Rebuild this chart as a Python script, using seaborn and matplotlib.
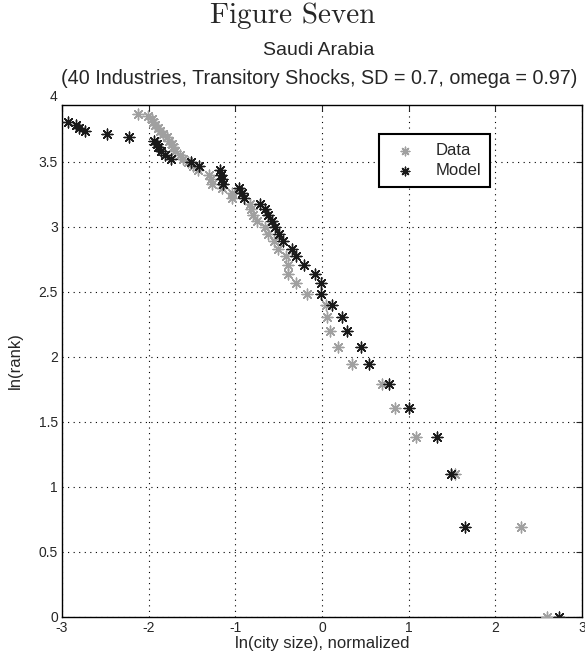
import numpy as np
import pandas as pd
import seaborn as sns
from matplotlib import pyplot as plt
from matplotlib import transforms

# ln(rank) for ranks 1..48 (data) and 1..45 (model)
data_y = [0.000, 0.693, 1.099, 1.386, 1.609, 1.792, 1.946, 2.079, 2.197, 2.303,
          2.398, 2.485, 2.565, 2.639, 2.708, 2.773, 2.833, 2.890, 2.944, 2.996,
          3.045, 3.091, 3.135, 3.178, 3.219, 3.258, 3.296, 3.332, 3.367, 3.401,
          3.434, 3.466, 3.497, 3.526, 3.555, 3.584, 3.611, 3.638, 3.664, 3.689,
          3.714, 3.738, 3.761, 3.784, 3.807, 3.829, 3.850, 3.871]
data_x = [2.59, 2.29, 1.534, 1.08, 0.846, 0.692, 0.342, 0.181, 0.09, 0.054,
          0.046, -0.17, -0.303, -0.389, -0.389, -0.415, -0.504, -0.554, -0.619, -0.657,
          -0.746, -0.792, -0.822, -0.83, -1.04, -1.04, -1.157, -1.272, -1.284, -1.30,
          -1.427, -1.484, -1.542, -1.60, -1.638, -1.696, -1.715, -1.734, -1.761, -1.791,
          -1.834, -1.869, -1.897, -1.926, -1.946, -1.964, -2.003, -2.119]

model_y = data_y[:45]
model_x = [2.73, 1.65, 1.488, 1.33, 1.00, 0.769, 0.546, 0.45, 0.292, 0.227,
           0.119, -0.015, -0.015, -0.08, -0.208, -0.30, -0.342, -0.446, -0.497, -0.543,
           -0.58, -0.623, -0.654, -0.715, -0.899, -0.926, -0.954, -1.138, -1.15, -1.165,
           -1.18, -1.419, -1.514, -1.745, -1.81, -1.86, -1.888, -1.907, -1.935, -2.226,
           -2.476, -2.74, -2.80, -2.84, -2.926]

xticks = [-3, -2, -1, 0, 1, 2, 3]
yticks = [0, 0.5, 1, 1.5, 2, 2.5, 3, 3.5]
ytick_labels = ["0", "0.5", "1", "1.5", "2", "2.5", "3", "3.5"]

sns.set_style("white")
plt.rcParams["font.family"] = ["Liberation Sans", "DejaVu Sans"]

fig = plt.figure(figsize=(5.85, 6.64), dpi=100)
# axes box: x 62..582 px, y 104..617 px
ax = fig.add_axes([0.106, 0.0712, 0.889, 0.7711])

star = (8, 2, 0)
sns.scatterplot(x=data_x, y=data_y, ax=ax, marker=star, color="#a0a0a0",
                s=60, linewidth=1.0, label="Data", zorder=3)
sns.scatterplot(x=model_x, y=model_y, ax=ax, marker=star, color="#1a1a1a",
                s=60, linewidth=1.0, label="Model", zorder=4)

ax.set_xlim(-3, 3)
ax.set_ylim(0, 3.94)
ax.set_xticks(xticks)
ax.set_xticklabels([str(t) for t in xticks])
ax.set_yticks(yticks)
ax.set_yticklabels(ytick_labels)
ax.tick_params(direction="in", length=4, width=0.8, labelsize=10,
               top=True, right=True, pad=3)
ax.grid(True, linestyle=(0, (1, 4)), color="black", linewidth=0.8)
for sp in ax.spines.values():
    sp.set_color("black")
    sp.set_linewidth(1.0)

# the top label sits just above the box in the original
trans = transforms.blended_transform_factory(ax.transAxes, ax.transData)
ax.text(-0.008, 4.0, "4", transform=trans, ha="right", va="center",
        fontsize=10, clip_on=False)

ax.set_xlabel("ln(city size), normalized", fontsize=12, labelpad=1)
ax.set_ylabel("ln(rank)", fontsize=12, labelpad=11)

leg = ax.legend(loc="upper right", bbox_to_anchor=(0.823, 0.943), fontsize=12,
                fancybox=False, framealpha=1, edgecolor="black",
                handlelength=2.0, handletextpad=0.8, borderpad=0.55,
                labelspacing=0.3, borderaxespad=0, markerscale=0.8)
leg.get_frame().set_linewidth(1.5)

fig.text(0.5, 0.976, "Figure Seven", ha="center", va="center",
         family="cmr10", fontsize=21)
fig.text(0.545, 0.924, "Saudi Arabia", ha="center", va="center", fontsize=14)
fig.text(0.545, 0.882, "(40 Industries, Transitory Shocks, SD = 0.7, omega = 0.97)",
         ha="center", va="center", fontsize=14.2)

fig.savefig("out.png", dpi=100)
